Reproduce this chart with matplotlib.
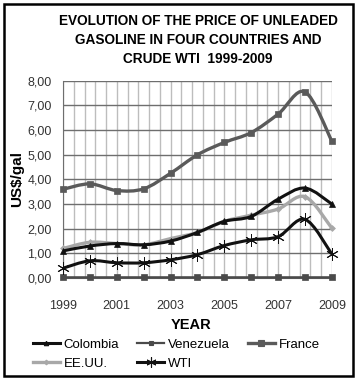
import matplotlib
matplotlib.use("Agg")
import matplotlib.pyplot as plt
import numpy as np
from matplotlib.path import Path
from matplotlib.patches import PathPatch, Rectangle
from matplotlib.lines import Line2D

years = [1999, 2000, 2001, 2002, 2003, 2004, 2005, 2006, 2007, 2008, 2009]
colombia = [1.10, 1.30, 1.40, 1.35, 1.50, 1.85, 2.30, 2.50, 3.20, 3.65, 3.00]
venezuela = [0.03, 0.03, 0.03, 0.03, 0.03, 0.03, 0.03, 0.03, 0.03, 0.03, 0.03]
france = [3.60, 3.82, 3.55, 3.62, 4.25, 5.00, 5.50, 5.90, 6.65, 7.55, 5.55]
eeuu = [1.20, 1.45, 1.40, 1.35, 1.60, 1.85, 2.30, 2.55, 2.80, 3.30, 2.02]
wti = [0.40, 0.70, 0.62, 0.62, 0.74, 0.95, 1.32, 1.55, 1.68, 2.38, 0.97]

xtick_labels = ["1999", "2001", "2003", "2005", "2007", "2009"]
ytick_labels = ["0,00", "1,00", "2,00", "3,00", "4,00", "5,00", "6,00", "7,00", "8,00"]

SANS = ["Liberation Sans", "DejaVu Sans"]

fig = plt.figure(figsize=(3.6, 3.83), dpi=100)
ax = fig.add_axes([0.175, 0.274, 0.747, 0.515])


def smooth_path(xs, ys):
    xs = np.asarray(xs, float)
    ys = np.asarray(ys, float)
    n = len(xs)
    verts = [(xs[0], ys[0])]
    codes = [Path.MOVETO]
    for i in range(n - 1):
        i0 = max(i - 1, 0)
        i3 = min(i + 2, n - 1)
        c1 = (xs[i] + (xs[i + 1] - xs[i0]) / 6.0, ys[i] + (ys[i + 1] - ys[i0]) / 6.0)
        c2 = (xs[i + 1] - (xs[i3] - xs[i]) / 6.0, ys[i + 1] - (ys[i3] - ys[i]) / 6.0)
        verts += [c1, c2, (xs[i + 1], ys[i + 1])]
        codes += [Path.CURVE4] * 3
    return Path(verts, codes)


series = {
    "Colombia": (colombia, "#111111", "^", 4, 2.2, 5),
    "Venezuela": (venezuela, "#4a4a4a", "s", 4, 1.6, 3),
    "France": (france, "#5a5a5a", "s", 5, 2.4, 4),
    "EE.UU.": (eeuu, "#a8a8a8", "D", 3, 2.4, 4),
    "WTI": (wti, "#111111", (6, 2, 0), 9, 2.2, 3),
}

for name, (vals, col, mk, ms, lw, z) in series.items():
    patch = PathPatch(smooth_path(years, vals), facecolor="none", edgecolor=col,
                      lw=lw, zorder=z, capstyle="round", joinstyle="round")
    ax.add_patch(patch)
    mew = 0.7 if mk == (6, 2, 0) else 0.5
    ax.plot(years, vals, linestyle="none", marker=mk, ms=ms, color=col,
            mec=col, mew=mew, zorder=z + 0.5, clip_on=False)

ax.set_xlim(1999, 2009)
ax.set_ylim(0, 8)
ax.set_xticks(np.arange(1999, 2010, 2))
ax.set_xticklabels(xtick_labels)
ax.set_yticks(np.arange(0, 9, 1))
ax.set_yticklabels(ytick_labels)

ax.grid(False)
for xv in np.arange(1999, 2009.01, 0.4):
    ax.axvline(xv, color="#bdbdbd", lw=1.0, zorder=0.5)
for yv in range(0, 9):
    ax.axhline(yv, color="#6e6e6e", lw=1.0, zorder=0.6)

for s in ["top", "right"]:
    ax.spines[s].set_visible(False)
ax.spines["left"].set_color("#6e6e6e")
ax.spines["bottom"].set_color("#555555")
ax.spines["bottom"].set_linewidth(1.5)
ax.tick_params(axis="both", which="both", length=0, colors="#444444")
ax.tick_params(axis="y", pad=8)
ax.tick_params(axis="x", pad=16)
for lab in ax.get_xticklabels() + ax.get_yticklabels():
    lab.set_fontfamily(SANS)
    lab.set_fontsize(9)
    lab.set_color("#333333")

ax.set_ylabel("US$/gal", fontsize=11, fontweight="bold", family=SANS)
ax.yaxis.set_label_coords(-0.145, 0.5)

fig.text(0.55, 0.896, "EVOLUTION OF THE PRICE OF UNLEADED\nGASOLINE IN FOUR COUNTRIES AND\nCRUDE WTI  1999-2009",
         ha="center", va="center", fontsize=9.8, fontweight="bold", family=SANS,
         linespacing=1.45)

fig.text(0.53, 0.152, "YEAR", ha="center", va="center", fontsize=10.5,
         fontweight="bold", family=SANS)

legend_order = ["Colombia", "EE.UU.", "Venezuela", "WTI", "France"]
handles = []
for name in legend_order:
    vals, col, mk, ms, lw, z = series[name]
    handles.append(Line2D([0], [0], color=col, lw=lw, marker=mk, ms=ms * 0.8,
                          mec=col, mew=0.8))
leg = fig.legend(handles=handles, labels=legend_order, ncol=3,
                 loc="center", bbox_to_anchor=(0.49, 0.075), frameon=False,
                 prop={"family": SANS, "size": 9.5}, handlelength=2.0,
                 handletextpad=0.3, columnspacing=1.4, labelspacing=0.5)

fig.add_artist(Rectangle((0.01, 0.018), 0.97, 0.972, transform=fig.transFigure,
                         fill=False, edgecolor="black", lw=1.8))

fig.savefig("out.png", dpi=100)
